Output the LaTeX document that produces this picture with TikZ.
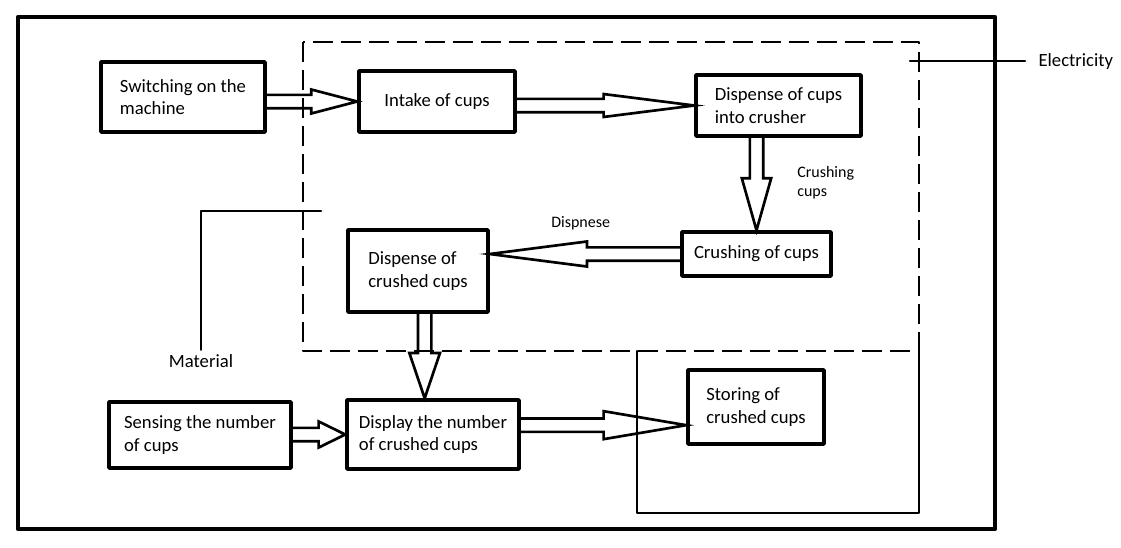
\documentclass[tikz,border=0pt]{standalone}
\usepackage{fontspec}
\setmainfont{Carlito}
\usetikzlibrary{calc}

% hollow block arrow: #1 start, #2 tip, #3 head length, #4 head half width
\newcommand{\hollowarrow}[4]{%
  \draw[arrowline] ($(#1)!5pt!90:(#2)$)
    -- ($(#2)!#3!(#1)!5pt!90:(#2)$)
    -- ($(#2)!#3!(#1)!#4!90:(#2)$)
    -- (#2)
    -- ($(#2)!#3!(#1)!#4!-90:(#2)$)
    -- ($(#2)!#3!(#1)!5pt!-90:(#2)$)
    -- ($(#1)!5pt!-90:(#2)$);
}

\begin{document}
\begin{tikzpicture}[x=0.75pt, y=-0.75pt,
                    line cap=round, line join=round,
                    box/.style={draw, line width=2.6pt, align=left, inner sep=0pt,
                                font=\fontsize{14}{17}\selectfont},
                    label/.style={font=\fontsize{14}{17}\selectfont},
                    small/.style={font=\fontsize{12}{14.25}\selectfont, align=left},
                    arrowline/.style={line width=2pt, line join=miter},
                    thinline/.style={line width=1.9pt}]
  \useasboundingbox (0,0) rectangle (1121,547);

  % frames
  \draw[line width=3.4pt] (18,17) rectangle (995,529);
  \draw[line width=2pt, dash pattern=on 15pt off 6pt, line cap=butt] (303,42) rectangle (919,351);
  \draw[thinline] (637,351) -- (637,513) -- (919,513) -- (919,351);

  % process boxes
  \node[box, minimum width=123pt, minimum height=52.5pt] (switch) at (183,97)
    {Switching on the\\machine};
  \node[box, minimum width=117pt, minimum height=45.75pt] (intake) at (437,101.5)
    {Intake of cups};
  \node[box, minimum width=123.75pt, minimum height=45.75pt] (crusherin) at (778.5,105.5)
    {Dispense of cups\\into crusher};
  \node[box, minimum width=111.75pt, minimum height=33pt] (crushing) at (756.5,254)
    {Crushing of cups};
  \node[box, minimum width=105pt, minimum height=61.5pt] (crushedout) at (418,271)
    {Dispense of\\crushed cups};
  \node[box, minimum width=136.5pt, minimum height=49.5pt] (sensing) at (200,435)
    {Sensing the number\\of cups};
  \node[box, minimum width=129pt, minimum height=51.75pt] (display) at (433,434.5)
    {Display the number\\of crushed cups};
  \node[box, minimum width=102pt, minimum height=55.5pt] (storing) at (756,407)
    {Storing of\\crushed cups};

  % texts
  \node[small, anchor=north west, inner sep=0pt] (crushlbl) at (797,166) {Crushing\\cups};
  \node[small, anchor=north west, inner sep=0pt] (dispnese) at (551,216) {Dispnese};
  \node[label, anchor=west, inner xsep=10pt] (electricity) at (1025,62) {Electricity};
  \node[label] (material) at (201,361) {Material};

  % inputs
  \coordinate (elecend) at (910,61);
  \coordinate (matend) at (321,211);
  \draw[thinline] (elecend) -- (electricity.west |- elecend);
  \draw[thinline] (matend) -| (material.north);

  % flow arrows
  \coordinate (crushedfoot) at ([xshift=5pt]crushedout.south);
  \coordinate (displayout) at ([yshift=7pt]display.east);
  \hollowarrow{intake.west -| switch.east}{intake.west}{34.5pt}{9pt}
  \hollowarrow{crusherin.west -| intake.east}{crusherin.west}{68pt}{8.6pt}
  \hollowarrow{crushing.north |- crusherin.south}{crushing.north}{39pt}{11pt}
  \hollowarrow{crushing.west}{crushing.west -| crushedout.east}{73pt}{9.4pt}
  \hollowarrow{crushedfoot}{crushedfoot |- display.north}{34pt}{11.5pt}
  \hollowarrow{display.west -| sensing.east}{display.west}{20pt}{9.8pt}
  \hollowarrow{displayout}{displayout -| storing.west}{62pt}{10.5pt}
\end{tikzpicture}
\end{document}
